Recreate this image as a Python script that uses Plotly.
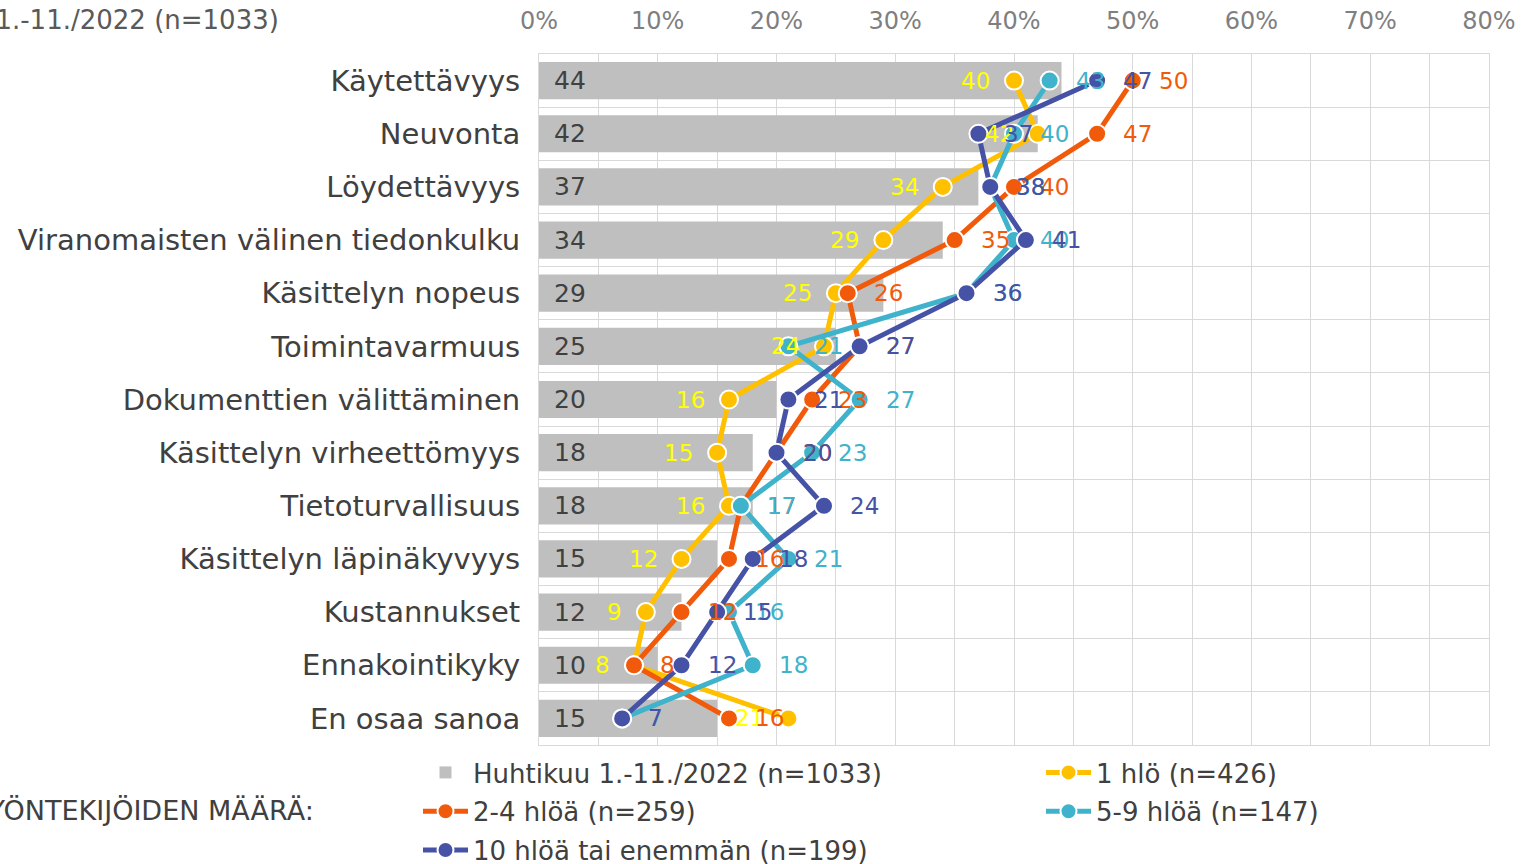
import plotly.graph_objects as go

# Survey categories, top to bottom
categories = [
    "Käytettävyys",
    "Neuvonta",
    "Löydettävyys",
    "Viranomaisten välinen tiedonkulku",
    "Käsittelyn nopeus",
    "Toimintavarmuus",
    "Dokumenttien välittäminen",
    "Käsittelyn virheettömyys",
    "Tietoturvallisuus",
    "Käsittelyn läpinäkyvyys",
    "Kustannukset",
    "Ennakointikyky",
    "En osaa sanoa",
]

# Share of respondents (%)
total_all = [44, 42, 37, 34, 29, 25, 20, 18, 18, 15, 12, 10, 15]
one_person = [40, 42, 34, 29, 25, 24, 16, 15, 16, 12, 9, 8, 21]
two_to_four = [50, 47, 40, 35, 26, 27, 23, 20, 17, 16, 12, 8, 16]
five_to_nine = [43, 40, 38, 40, 36, 21, 27, 23, 17, 21, 16, 18, 7]
ten_or_more = [47, 37, 38, 41, 36, 27, 21, 20, 24, 18, 15, 12, 7]

x_tick_values = [0, 10, 20, 30, 40, 50, 60, 70, 80]
x_tick_labels = ["0%", "10%", "20%", "30%", "40%", "50%", "60%", "70%", "80%"]

FONT = "DejaVu Sans"
GRID = "#D9D9D9"
TEXT = "#404040"

series = [
    # name, values, line colour, label colour, label side, legend
    ("1 hlö (n=426)", one_person, "#FFC000", "#FFFF00", "left", "legend2"),
    ("2-4 hlöä (n=259)", two_to_four, "#F15A0A", "#F15A0A", "right", "legend"),
    ("5-9 hlöä (n=147)", five_to_nine, "#3FB3CB", "#3FB3CB", "right", "legend2"),
    ("10 hlöä tai enemmän (n=199)", ten_or_more, "#4652A6", "#4652A6", "right", "legend"),
]

fig = go.Figure()

fig.add_trace(go.Bar(
    x=total_all, y=categories, orientation="h",
    name="Huhtikuu 1.-11./2022 (n=1033)",
    marker=dict(color="#BFBFBF", line=dict(width=0)),
    width=0.7,
    legend="legend", legendgroup="g0",
    hoverinfo="skip",
))

for i, (name, vals, col, lcol, side, leg) in enumerate(series):
    fig.add_trace(go.Scatter(
        x=vals, y=categories, mode="lines+markers", name=name,
        line=dict(color=col, width=5),
        marker=dict(size=18, color=col, line=dict(color="white", width=2)),
        legend=leg, legendgroup=f"g{i+1}",
        hoverinfo="skip",
    ))

annotations = []
# value labels inside the bars
for cat, v in zip(categories, total_all):
    annotations.append(dict(
        x=0, y=cat, xref="x", yref="y", text=str(v), showarrow=False,
        xanchor="left", yanchor="middle", xshift=13,
        font=dict(family=FONT, size=25, color=TEXT),
    ))
# value labels next to the line markers
for name, vals, col, lcol, side, leg in series:
    for cat, v in zip(categories, vals):
        annotations.append(dict(
            x=v, y=cat, xref="x", yref="y", text=str(v), showarrow=False,
            xanchor="right" if side == "left" else "left", yanchor="middle",
            xshift=-22 if side == "left" else 24,
            font=dict(family=FONT, size=23, color=lcol),
        ))

annotations.append(dict(
    x=-(539 - 281) / 950, y=1 + (54 - 20) / 691, xref="paper", yref="paper",
    text="Huhtikuu 1.-11./2022 (n=1033)", showarrow=False,
    xanchor="right", yanchor="middle",
    font=dict(family=FONT, size=26, color="#595959"),
))
annotations.append(dict(
    x=-(539 - 316) / 950, y=-(810 - 745) / 691, xref="paper", yref="paper",
    text="TYÖNTEKIJÖIDEN MÄÄRÄ:", showarrow=False,
    xanchor="right", yanchor="middle",
    font=dict(family=FONT, size=27, color=TEXT),
))

legend_common = dict(
    font=dict(family=FONT, size=26, color=TEXT),
    bgcolor="rgba(0,0,0,0)", orientation="v",
    traceorder="grouped", tracegroupgap=2, itemwidth=45,
    xanchor="left", yanchor="top", itemclick=False, itemdoubleclick=False,
)

fig.update_layout(
    width=1521, height=864,
    margin=dict(l=539, r=32, t=54, b=119, autoexpand=False),
    paper_bgcolor="white", plot_bgcolor="white",
    showlegend=True,
    barmode="overlay",
    annotations=annotations,
    legend=dict(x=-(539 - 418) / 950, y=-(749 - 745) / 691, **legend_common),
    legend2=dict(x=(1041 - 539) / 950, y=-(749 - 745) / 691, **legend_common),
    xaxis=dict(
        range=[0, 80], side="top",
        tickmode="array", tickvals=x_tick_values, ticktext=x_tick_labels,
        tickfont=dict(family=FONT, size=24, color="#7F7F7F"),
        showgrid=True, gridcolor=GRID, gridwidth=1,
        minor=dict(dtick=5, showgrid=True, gridcolor=GRID, gridwidth=1),
        zeroline=False, showline=True, linecolor=GRID, mirror=True,
        ticks="", ticklabelstandoff=14, fixedrange=True,
    ),
    yaxis=dict(
        type="category", categoryorder="array", categoryarray=categories,
        range=[len(categories) - 0.5, -0.5], tickson="boundaries",
        showgrid=True, gridcolor=GRID, gridwidth=1,
        showline=True, linecolor=GRID, mirror=True,
        ticks="", ticklabelstandoff=12,
        tickfont=dict(family=FONT, size=29, color=TEXT), fixedrange=True,
    ),
)

fig.write_html("out.html")
